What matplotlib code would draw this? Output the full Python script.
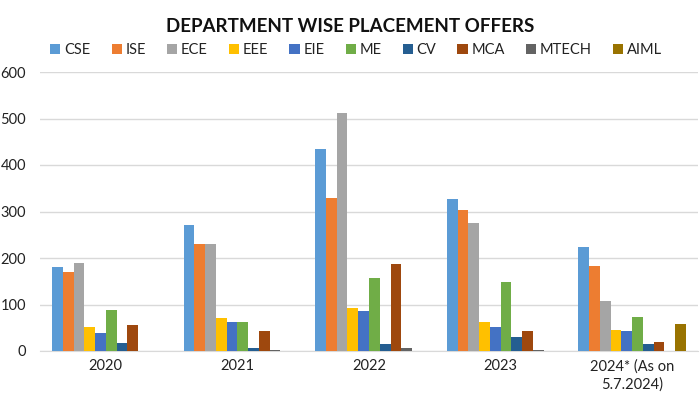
import numpy as np
import matplotlib
matplotlib.use('Agg')
import matplotlib.pyplot as plt

years = ['2020', '2021', '2022', '2023', '2024* (As on\n5.7.2024)']
depts = ['CSE', 'ISE', 'ECE', 'EEE', 'EIE', 'ME', 'CV', 'MCA', 'MTECH', 'AIML']

cse = [180, 271, 434, 326, 223]
ise = [170, 230, 329, 303, 182]
ece = [189, 230, 512, 276, 107]
eee = [51, 72, 92, 62, 46]
eie = [39, 62, 87, 52, 44]
me = [88, 62, 157, 148, 74]
cv = [17, 7, 14, 30, 14]
mca = [56, 42, 187, 44, 19]
mtech = [0, 2, 7, 1.5, 0]
aiml = [0, 0, 0, 0, 59]

series = [cse, ise, ece, eee, eie, me, cv, mca, mtech, aiml]
colors = ['#5B9BD5', '#ED7D31', '#A5A5A5', '#FFC000', '#4472C4',
          '#70AD47', '#255E91', '#9E480E', '#636363', '#997300']

plt.rcParams['font.family'] = ['Lato', 'DejaVu Sans']

fig = plt.figure(figsize=(7, 4.03), dpi=100)
ax = fig.add_axes([40 / 700, 52 / 403, 658 / 700, 279 / 403])

# barki pogrupowane po latach
x = np.arange(len(years))
n = len(series)
bw = 0.818 / n
for i, (vals, c, name) in enumerate(zip(series, colors, depts)):
    ax.bar(x - 0.409 + bw * (i + 0.5), vals, width=bw, color=c, label=name, zorder=3)

ax.set_xlim(-0.5, len(years) - 0.5)
ax.set_ylim(0, 600)
ax.set_yticks(range(0, 601, 100))
ax.yaxis.grid(True, color='#D9D9D9', linewidth=1, zorder=0)
for s in ['top', 'right', 'left']:
    ax.spines[s].set_visible(False)
ax.spines['bottom'].set_color('#D9D9D9')
ax.tick_params(axis='both', length=0, labelsize=10.5, colors='#222222')
ax.tick_params(axis='y', pad=10)
ax.tick_params(axis='x', pad=6)
ax.set_xticks(x)
ax.set_xticklabels(years, linespacing=1.3)

fig.text(0.5, 1 - 27 / 403, 'DEPARTMENT WISE PLACEMENT OFFERS', ha='center', va='center',
         fontsize=13.5, fontweight='bold', color='#111111')

leg = fig.legend(loc='center', bbox_to_anchor=(356 / 700, 1 - 50 / 403), ncol=10,
                 frameon=False, fontsize=10.5, handlelength=0.7, handleheight=0.7,
                 handletextpad=0.25, columnspacing=1.45)
for t in leg.get_texts():
    t.set_color('#222222')

fig.savefig('out.png', dpi=100)
